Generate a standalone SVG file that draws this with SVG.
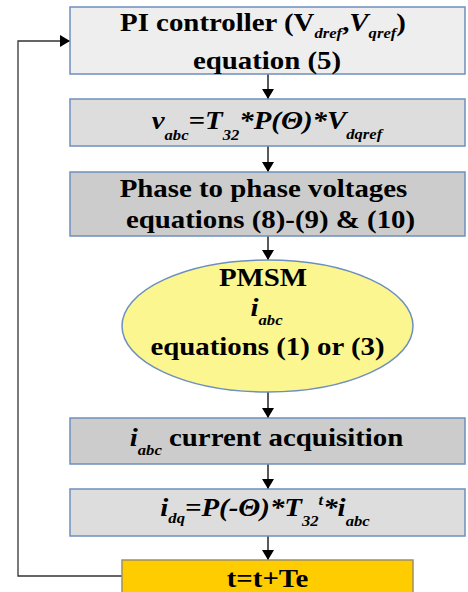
<svg xmlns="http://www.w3.org/2000/svg" width="468" height="592" viewBox="0 0 468 592">
<defs>
<marker id="ah" markerWidth="10" markerHeight="12" refX="10" refY="6" orient="auto" markerUnits="userSpaceOnUse">
<path d="M0,0 L10,6 L0,12 Z" fill="#000"/>
</marker>
<style>
.box{stroke:#6d8fbf;stroke-width:1.5}
.t{font-family:"Liberation Serif","Times New Roman",serif;font-weight:bold;font-size:26px;fill:#000;text-anchor:middle}
.i{font-style:italic}
.s{font-size:15px;font-style:italic}
.c{fill:none;stroke:#000;stroke-width:1.3}
.f{fill:none;stroke:#333;stroke-width:1.3}
</style>
</defs>
<rect width="468" height="592" fill="#fff"/>
<g id="connectors">
<path class="c" d="M268,74 V99" marker-end="url(#ah)"/>
<path class="c" d="M268,146 V172" marker-end="url(#ah)"/>
<path class="c" d="M268,236 V260" marker-end="url(#ah)"/>
<path class="c" d="M268,392 V418" marker-end="url(#ah)"/>
<path class="c" d="M268,464 V489" marker-end="url(#ah)"/>
<path class="c" d="M268,536 V560" marker-end="url(#ah)"/>
<path class="f" d="M122,576 H18 V41 H70" marker-end="url(#ah)"/>
</g>
<g id="pi">
<rect class="box" x="70" y="7" width="395" height="67" fill="#eeeeee"/>
<text class="t" transform="translate(263,0) scale(1.11,1)" x="0" y="31.5">PI controller (V<tspan class="s" dy="7">dref</tspan><tspan dy="-7">,</tspan><tspan class="i">V</tspan><tspan class="s" dy="7">qref</tspan><tspan dy="-7">)</tspan></text>
<text class="t" transform="translate(267,0) scale(1.11,1)" x="0" y="69.5">equation (5)</text>
</g>
<g id="vabc">
<rect class="box" x="70" y="99" width="395" height="47" fill="#dddddd"/>
<text class="t i" transform="translate(267,0) scale(1.11,1)" x="0" y="129.5">v<tspan class="s" dy="11">abc</tspan><tspan dy="-11">=T</tspan><tspan class="s" dy="11">32</tspan><tspan dy="-11">*P(Θ)*V</tspan><tspan class="s" dy="10">dqref</tspan></text>
</g>
<g id="phase">
<rect class="box" x="70" y="172" width="395" height="64" fill="#cccccc"/>
<text class="t" transform="translate(263.5,0) scale(1.11,1)" x="0" y="197.5">Phase to phase voltages</text>
<text class="t" transform="translate(270.5,0) scale(1.11,1)" x="0" y="228.5">equations (8)-(9) &amp; (10)</text>
</g>
<g id="pmsm">
<ellipse class="box" cx="267.5" cy="326" rx="145.5" ry="66" fill="#fbf68f" stroke-width="1"/>
<text class="t" transform="translate(263,0) scale(1.11,1)" x="0" y="286">PMSM</text>
<text class="t i" transform="translate(266.5,0) scale(1.11,1)" x="0" y="316.5">i<tspan class="s" dy="8.5">abc</tspan></text>
<text class="t" transform="translate(267.5,0) scale(1.11,1)" x="0" y="355">equations (1) or (3)</text>
</g>
<g id="acq">
<rect class="box" x="70" y="418" width="395" height="46" fill="#cccccc"/>
<text class="t" transform="translate(266.5,0) scale(1.11,1)" x="0" y="446.5"><tspan class="i">i</tspan><tspan class="s" dy="8.5">abc</tspan><tspan dy="-8.5"> current acquisition</tspan></text>
</g>
<g id="idq">
<rect class="box" x="70" y="489" width="395" height="47" fill="#dddddd"/>
<text class="t i" transform="translate(265,0) scale(1.11,1)" x="0" y="516.5">i<tspan class="s" dy="7">dq</tspan><tspan dy="-7">=P(-Θ)*T</tspan><tspan class="s" dy="10">32</tspan><tspan class="s" dy="-21">t</tspan><tspan dy="11">*i</tspan><tspan class="s" dy="9.5">abc</tspan></text>
</g>
<g id="tte">
<rect x="122" y="560" width="291" height="40" fill="#ffcc00" stroke="#a09060" stroke-width="1.5"/>
<text class="t" transform="translate(267.5,0) scale(1.11,1)" x="0" y="587.5">t=t+Te</text>
</g>
</svg>
